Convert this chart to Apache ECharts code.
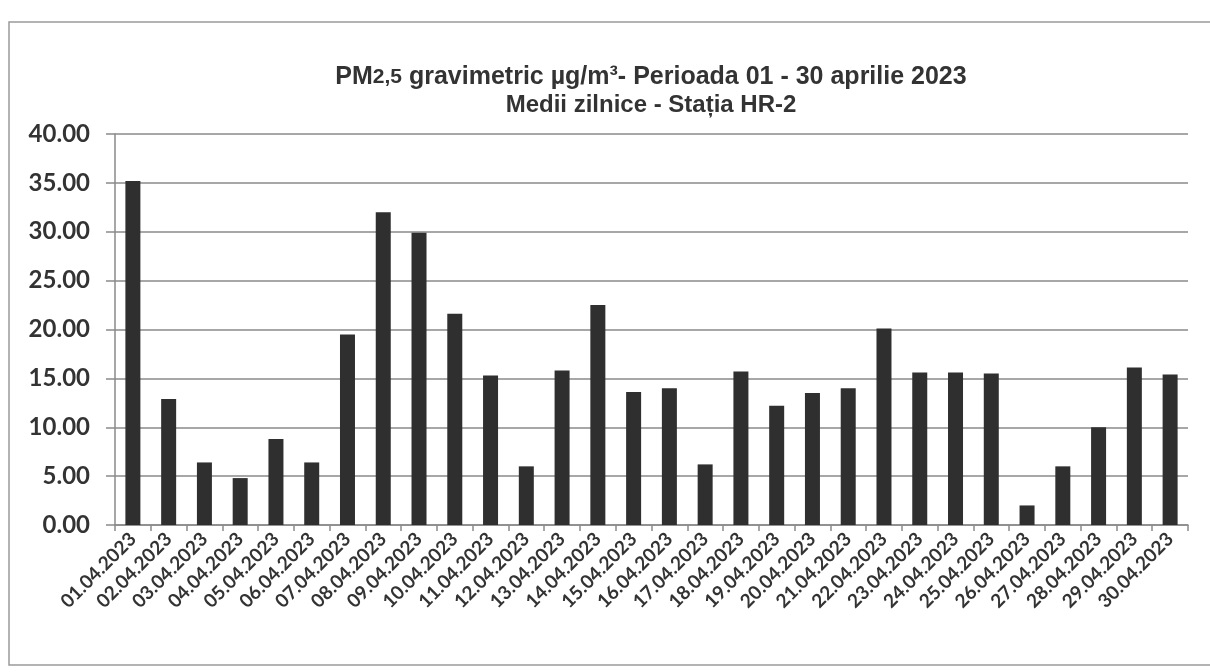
<!DOCTYPE html>
<html>
<head>
<meta charset="utf-8">
<script src="https://cdn.jsdelivr.net/npm/echarts@6/dist/echarts.min.js"></script>
<style>html,body{margin:0;padding:0;background:#fff;}#c{width:1210px;height:672px;}</style>
</head>
<body>
<div id="c"></div>
<script>
const categories = ['01.04.2023','02.04.2023','03.04.2023','04.04.2023','05.04.2023','06.04.2023','07.04.2023','08.04.2023','09.04.2023','10.04.2023','11.04.2023','12.04.2023','13.04.2023','14.04.2023','15.04.2023','16.04.2023','17.04.2023','18.04.2023','19.04.2023','20.04.2023','21.04.2023','22.04.2023','23.04.2023','24.04.2023','25.04.2023','26.04.2023','27.04.2023','28.04.2023','29.04.2023','30.04.2023'];
const values = [35.2,12.9,6.4,4.8,8.8,6.4,19.5,32.0,29.9,21.6,15.3,6.0,15.8,22.5,13.6,14.0,6.2,15.7,12.2,13.5,14.0,20.1,15.6,15.6,15.5,2.0,6.0,10.0,16.1,15.4];
const titleLine1Parts = ['PM', '2,5', ' gravimetric µg/m³- Perioada 01 - 30 aprilie 2023'];
const titleLine2 = 'Medii zilnice - Stația HR-2';
const yMin = 0, yMax = 40, yStep = 5;

const chart = echarts.init(document.getElementById('c'), null, {renderer: 'canvas'});
chart.setOption({
  backgroundColor: '#ffffff',
  animation: false,
  title: [
    {
      text: '{a|' + titleLine1Parts[0] + '}{b|' + titleLine1Parts[1] + '}{a|' + titleLine1Parts[2] + '}',
      left: 646, top: 60, textAlign: 'center',
      textStyle: {
        rich: {
          a: {fontFamily: 'Liberation Sans', fontWeight: 'bold', fontSize: 25, color: '#333'},
          b: {fontFamily: 'Liberation Sans', fontWeight: 'bold', fontSize: 21, color: '#333'}
        }
      }
    },
    {
      text: titleLine2,
      left: 646, top: 88, textAlign: 'center',
      textStyle: {fontFamily: 'Liberation Sans', fontWeight: 'bold', fontSize: 24, color: '#333'}
    }
  ],
  graphic: [
    {type: 'rect', shape: {x: 9, y: 22, width: 1240, height: 643}, style: {fill: 'none', stroke: '#9a9a9a', lineWidth: 1.5}, z: -1}
  ],
  grid: {left: 115, right: 22, top: 134, bottom: 147, containLabel: false},
  xAxis: {
    type: 'category',
    data: categories,
    boundaryGap: true,
    axisLine: {lineStyle: {color: '#8a8a8a', width: 1.5}},
    axisTick: {show: true, alignWithLabel: false, length: 6, lineStyle: {color: '#8a8a8a', width: 1.5}},
    axisLabel: {rotate: 45, interval: 0, margin: 11, fontFamily: 'Lato', fontWeight: 'bold', fontSize: 19, color: '#333'}
  },
  yAxis: {
    type: 'value',
    min: yMin, max: yMax, interval: yStep,
    axisLine: {show: true, lineStyle: {color: '#8a8a8a', width: 1.5}},
    axisTick: {show: true, length: 9, lineStyle: {color: '#8a8a8a', width: 1.5}},
    splitLine: {show: true, lineStyle: {color: '#8a8a8a', width: 1.5}},
    axisLabel: {margin: 25, fontFamily: 'Lato', fontWeight: 'bold', fontSize: 24, color: '#333', formatter: v => v.toFixed(2)}
  },
  series: [{
    type: 'bar',
    data: values,
    barWidth: 15,
    itemStyle: {color: '#2f2f2f'}
  }]
});
</script>
</body>
</html>
